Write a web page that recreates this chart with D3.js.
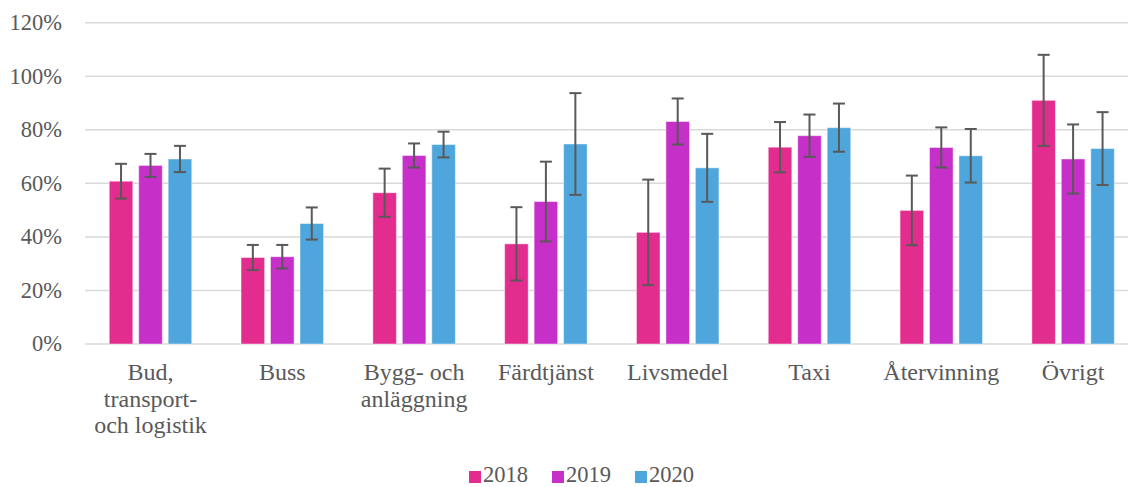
<!DOCTYPE html>
<html><head><meta charset="utf-8">
<script src="https://cdn.jsdelivr.net/npm/d3@7"></script>
<style>body{margin:0;background:#fff;} svg text{font-family:"Times New Roman","Liberation Serif",serif;fill:#595959;}</style>
</head><body><svg id="c" width="1128" height="487"></svg>
<script>
const categories = ["Bud, transport- och logistik","Buss","Bygg- och anläggning","Färdtjänst","Livsmedel","Taxi","Återvinning","Övrigt"];
const categoryLines = [["Bud,","transport-","och logistik"],["Buss"],["Bygg- och","anläggning"],["Färdtjänst"],["Livsmedel"],["Taxi"],["Återvinning"],["Övrigt"]];
const seriesNames = ["2018","2019","2020"];
const values2018 = [60.8, 32.3, 56.5, 37.4, 41.7, 73.5, 49.9, 91.0];
const values2019 = [66.7, 32.6, 70.4, 53.2, 83.1, 77.8, 73.4, 69.1];
const values2020 = [69.1, 45.0, 74.5, 74.7, 65.8, 80.8, 70.3, 73.0];
const err2018 = [6.5, 4.7, 9.0, 13.7, 19.7, 9.4, 13.0, 17.0];
const err2019 = [4.3, 4.4, 4.5, 14.9, 8.6, 7.9, 7.5, 12.9];
const err2020 = [4.9, 6.0, 4.8, 19.0, 12.7, 9.0, 10.0, 13.6];
const yTicks = [0, 20, 40, 60, 80, 100, 120];
const colors = ["#E32D8E", "#C62FC8", "#4FA6DC"];

const series = [values2018, values2019, values2020];
const errs = [err2018, err2019, err2020];
const FONT = "'Times New Roman','Liberation Serif',serif";

const svg = d3.select("#c");
const x = d3.scaleBand().domain(categories).range([84.6, 1139]);
const y = d3.scaleLinear().domain([0, 120]).range([344, 22.7]);
const GW = 82.5;
const xs = d3.scaleBand().domain(seriesNames).range([0, GW]).paddingInner(0.2).paddingOuter(0);
const groupOffset = (x.bandwidth() - GW) / 2;

// gridlines
svg.append("g").selectAll("line").data(yTicks).join("line")
  .attr("x1", 85).attr("x2", 1128)
  .attr("y1", d => y(d)).attr("y2", d => y(d))
  .attr("stroke", "#d9d9d9").attr("stroke-width", 1.5);

// y labels
svg.append("g").selectAll("text").data(yTicks).join("text")
  .attr("x", 62).attr("y", d => y(d)).attr("dy", "0.33em")
  .attr("text-anchor", "end").attr("font-size", 22.5).attr("font-family", FONT)
  .text(d => d + "%");

// bars
const rows = [];
categories.forEach((c, i) => series.forEach((s, j) => rows.push({c, s: seriesNames[j], v: s[i], e: errs[j][i], col: colors[j]})));
const gx = d => x(d.c) + groupOffset + xs(d.s);
svg.append("g").selectAll("rect").data(rows).join("rect")
  .attr("x", gx).attr("width", xs.bandwidth())
  .attr("y", d => y(d.v)).attr("height", d => y(0) - y(d.v))
  .attr("fill", d => d.col).attr("stroke", "rgba(255,255,255,0.45)").attr("stroke-width", 1);

// error bars
const eb = svg.append("g").attr("stroke", "#595959").attr("stroke-width", 2);
rows.forEach(d => {
  const cx = gx(d) + xs.bandwidth() / 2;
  eb.append("line").attr("x1", cx).attr("x2", cx).attr("y1", y(d.v + d.e)).attr("y2", y(d.v - d.e));
  [d.v + d.e, d.v - d.e].forEach(v => eb.append("line").attr("x1", cx - 6).attr("x2", cx + 6).attr("y1", y(v)).attr("y2", y(v)));
});

// category labels
const cl = svg.append("g");
categories.forEach((c, i) => {
  const t = cl.append("text").attr("x", x(c) + x.bandwidth() / 2).attr("y", 380).attr("text-anchor", "middle").attr("font-size", 24).attr("font-family", FONT);
  categoryLines[i].forEach((ln, k) => t.append("tspan").attr("x", x(c) + x.bandwidth() / 2).attr("y", 380 + k * 26.5).text(ln));
});

// legend
const legX = [469, 552, 635];
const lg = svg.append("g");
seriesNames.forEach((s, j) => {
  lg.append("rect").attr("x", legX[j]).attr("y", 471).attr("width", 12).attr("height", 12).attr("fill", colors[j]);
  lg.append("text").attr("x", legX[j] + 14).attr("y", 481.5).attr("font-size", 22.5).attr("font-family", FONT).text(s);
});
</script></body></html>
